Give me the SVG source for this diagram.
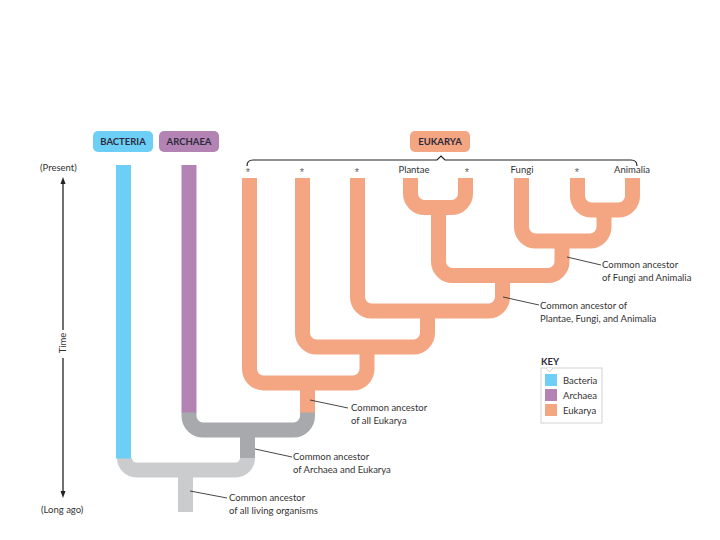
<svg xmlns="http://www.w3.org/2000/svg" width="720" height="540" viewBox="0 0 720 540">
<style>
.t{font-family:Lato,"Open Sans","Liberation Sans",sans-serif;font-size:9.5px;fill:#333}
.s{font-family:"Liberation Sans",sans-serif;font-size:11px;fill:#666}
.h{font-family:Lato,"Open Sans","Liberation Sans",sans-serif;font-size:9.5px;font-weight:bold;fill:#2b2b3b}
.br{fill:none;stroke-width:15;stroke-linecap:butt}
.eu{stroke:#F4A582}
.dg{stroke:#A7A9AC}
.lg{stroke:#CBCCCE}
.ld{fill:none;stroke:#333;stroke-width:0.9}
</style>
<rect width="720" height="540" fill="#fff"/>
<g id="headers">
<g id="bacteria-label"><rect x="93" y="131" width="60" height="21" rx="5" fill="#6DCFF6"/><text class="h" x="123" y="145" text-anchor="middle">BACTERIA</text></g>
<g id="archaea-label"><rect x="159" y="131" width="60" height="21" rx="5" fill="#B384B3"/><text class="h" x="189" y="145" text-anchor="middle">ARCHAEA</text></g>
<g id="eukarya-label"><rect x="410" y="131" width="60" height="21" rx="5" fill="#F4A582"/><text class="h" x="440" y="145" text-anchor="middle">EUKARYA</text></g>
</g>
<g id="brace"><path d="M247 166 Q247 160 253 160 H437 L441 156 L445 160 H631 Q637 160 637 166" fill="none" stroke="#222" stroke-width="1.2"/></g>
<g id="tips">
<text class="s" x="248" y="176" text-anchor="middle">*</text>
<text class="s" x="302" y="176" text-anchor="middle">*</text>
<text class="s" x="357" y="176" text-anchor="middle">*</text>
<text class="t" x="414" y="173" text-anchor="middle">Plantae</text>
<text class="s" x="467" y="176" text-anchor="middle">*</text>
<text class="t" x="522" y="173" text-anchor="middle">Fungi</text>
<text class="s" x="577" y="176" text-anchor="middle">*</text>
<text class="t" x="632" y="173" text-anchor="middle">Animalia</text>
</g>
<g id="time-axis">
<text class="t" x="40" y="171">(Present)</text>
<text class="t" x="41" y="513">(Long ago)</text>
<text class="t" transform="translate(66 343) rotate(-90)" text-anchor="middle">Time</text>
<line x1="63" y1="182" x2="63" y2="330" stroke="#222" stroke-width="1.3"/>
<line x1="63" y1="358" x2="63" y2="493" stroke="#222" stroke-width="1.3"/>
<path d="M63 177 L60.5 184 L65.5 184 Z" fill="#222"/>
<path d="M63 498 L60.5 491 L65.5 491 Z" fill="#222"/>
</g>
<g id="connectors">
<path class="br lg" d="M124.5 458 A12 12 0 0 0 136.5 470 H235.5 A12 12 0 0 0 247.5 458"/>
<path class="br lg" d="M185.5 470 V512"/>
<path class="br dg" d="M189 412 V416 A14 14 0 0 0 203 430 H293.5 A14 14 0 0 0 307.5 416 V412"/>
<path class="br dg" d="M247.5 430 V458"/>
<path class="br" stroke="#6DCFF6" d="M123.5 165 V458.5"/>
<path class="br" stroke="#B384B3" d="M189 165 V412.5"/>
<path class="br eu" d="M307.5 383 V412.5"/>
<path class="br eu" d="M249.5 178 V369 A14 14 0 0 0 263.5 383 H353 A14 14 0 0 0 367 369 V347"/>
<path class="br eu" d="M302.5 178 V333 A14 14 0 0 0 316.5 347 H413.5 A14 14 0 0 0 427.5 333 V311"/>
<path class="br eu" d="M357.5 178 V297 A14 14 0 0 0 371.5 311 H488.5 A14 14 0 0 0 502.5 297 V275.5"/>
<path class="br eu" d="M438.5 207.5 V261.5 A14 14 0 0 0 452.5 275.5 H548 A14 14 0 0 0 562 261.5 V241"/>
<path class="br eu" d="M521.5 178 V227 A14 14 0 0 0 535.5 241 H590 A14 14 0 0 0 604 227 V210"/>
<path class="br eu" d="M410.5 178 V193.5 A14 14 0 0 0 424.5 207.5 H451.5 A14 14 0 0 0 465.5 193.5 V178"/>
<path class="br eu" d="M577.5 178 V196 A14 14 0 0 0 591.5 210 H618.5 A14 14 0 0 0 632.5 196 V178"/>
<line class="ld" x1="567" y1="257" x2="601" y2="265"/>
<line class="ld" x1="503" y1="297" x2="539" y2="305"/>
<line class="ld" x1="310" y1="400" x2="348" y2="408"/>
<line class="ld" x1="255" y1="449" x2="292" y2="457"/>
<line class="ld" x1="190" y1="491" x2="227" y2="498"/>
</g>
<g id="label-fungi-animalia"><text class="t" x="602" y="268">Common ancestor</text><text class="t" x="602" y="281">of  Fungi and Animalia</text></g>
<g id="label-plantae"><text class="t" x="540" y="309">Common ancestor of</text><text class="t" x="540" y="322">Plantae, Fungi, and Animalia</text></g>
<g id="label-eukarya"><text class="t" x="351" y="411">Common ancestor</text><text class="t" x="351" y="424">of all Eukarya</text></g>
<g id="label-archaea-eukarya"><text class="t" x="293" y="460">Common ancestor</text><text class="t" x="293" y="473">of Archaea and Eukarya</text></g>
<g id="label-living"><text class="t" x="229" y="501">Common ancestor</text><text class="t" x="229" y="514">of all living organisms</text></g>
<g id="key">
<text class="h" x="541" y="365">KEY</text>
<rect x="541" y="368" width="61" height="55" fill="#fff" stroke="#C8C8C8" stroke-width="0.8"/>
<polyline points="546,368 549.5,372 553,368" fill="#fff" stroke="#C8C8C8" stroke-width="0.8"/>
<rect x="545" y="374" width="12" height="12" fill="#6DCFF6"/>
<rect x="545" y="389" width="12" height="12" fill="#B384B3"/>
<rect x="545" y="404" width="12" height="12" fill="#F4A582"/>
<text class="t" x="563" y="384">Bacteria</text>
<text class="t" x="563" y="399">Archaea</text>
<text class="t" x="563" y="414">Eukarya</text>
</g>
</svg>
